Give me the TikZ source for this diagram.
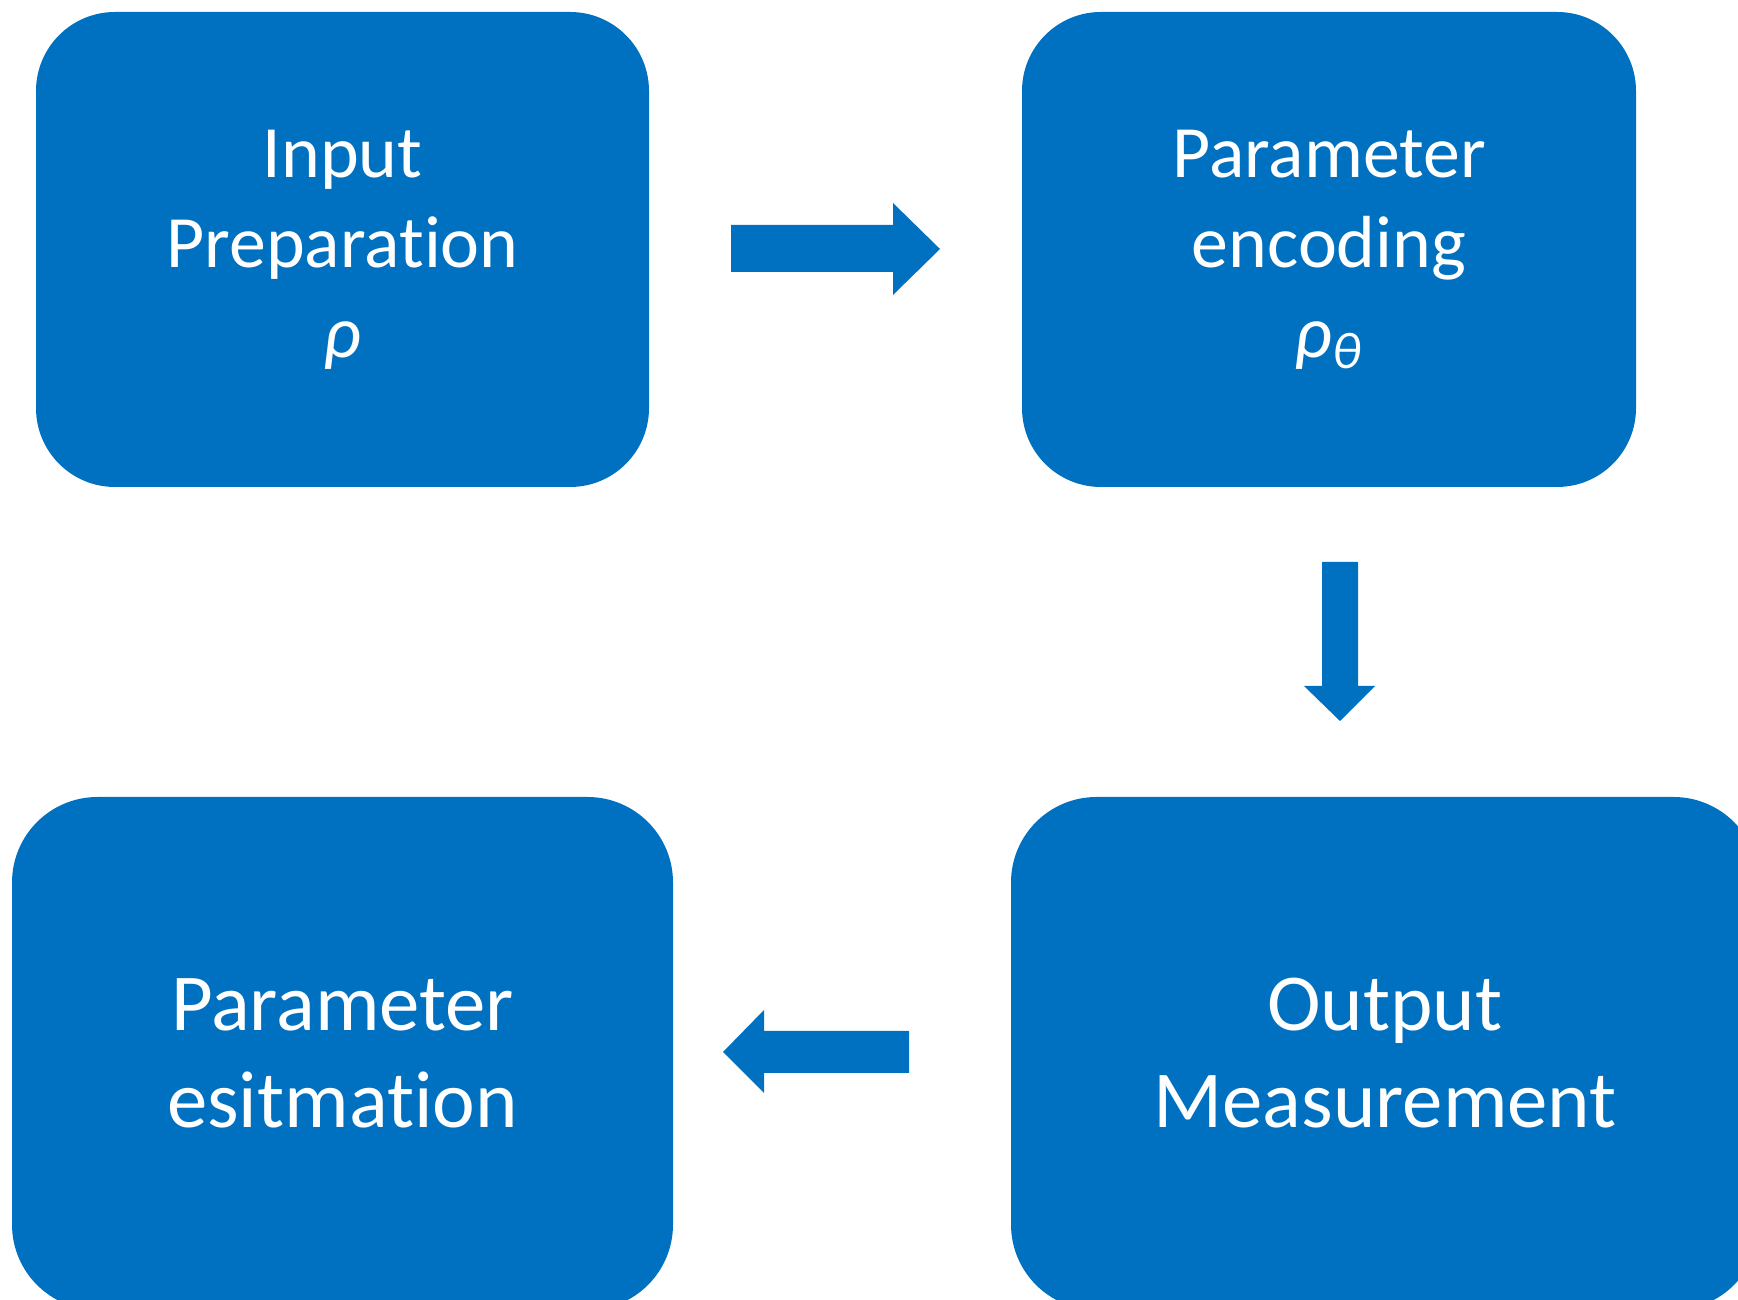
\documentclass[tikz,border=0pt]{standalone}
\usepackage{fontspec}
\setmainfont{Carlito}[Ligatures=NoCommon]
\definecolor{boxblue}{HTML}{0070C0}
\tikzset{
  stage/.style={fill=boxblue, text=white, align=center, inner sep=0pt,
    font=\fontsize{21}{25.6}\selectfont},
  bigstage/.style={stage, font=\fontsize{23}{27.6}\selectfont},
  flow/.style={fill=boxblue}
}

\begin{document}
\begin{tikzpicture}
  \useasboundingbox (0,0) rectangle (17.38,12.99);
  \clip (0,0) rectangle (17.38,12.99);
  % the four stages
  \node [stage, minimum width=6.13cm, minimum height=4.75cm, rounded corners=0.79cm]
    (inp) at (3.425,10.495) {Input\\Preparation\\{\itshape ρ}};
  \node [stage, minimum width=6.14cm, minimum height=4.75cm, rounded corners=0.79cm]
    (enc) at (13.29,10.495) {Parameter\\encoding\\{\itshape ρ\textsubscript{θ}}};
  \node [bigstage, minimum width=7.48cm, minimum height=5.13cm, rounded corners=0.855cm]
    (meas) at (13.85,2.455) {Output\\Measurement};
  \node [bigstage, minimum width=6.61cm, minimum height=5.13cm, rounded corners=0.855cm]
    (est) at (3.425,2.455) {Parameter\\esitmation};
  % block arrows
  \fill [flow] (7.31,10.74) -- (8.93,10.74) -- (8.93,10.96) -- (9.40,10.50)
    -- (8.93,10.04) -- (8.93,10.27) -- (7.31,10.27) -- cycle;
  \fill [flow] (13.22,7.37) -- (13.58,7.37) -- (13.58,6.13) -- (13.75,6.13)
    -- (13.40,5.78) -- (13.04,6.13) -- (13.22,6.13) -- cycle;
  \fill [flow] (9.09,2.68) -- (7.64,2.68) -- (7.64,2.89) -- (7.23,2.47)
    -- (7.64,2.06) -- (7.64,2.26) -- (9.09,2.26) -- cycle;
\end{tikzpicture}
\end{document}
